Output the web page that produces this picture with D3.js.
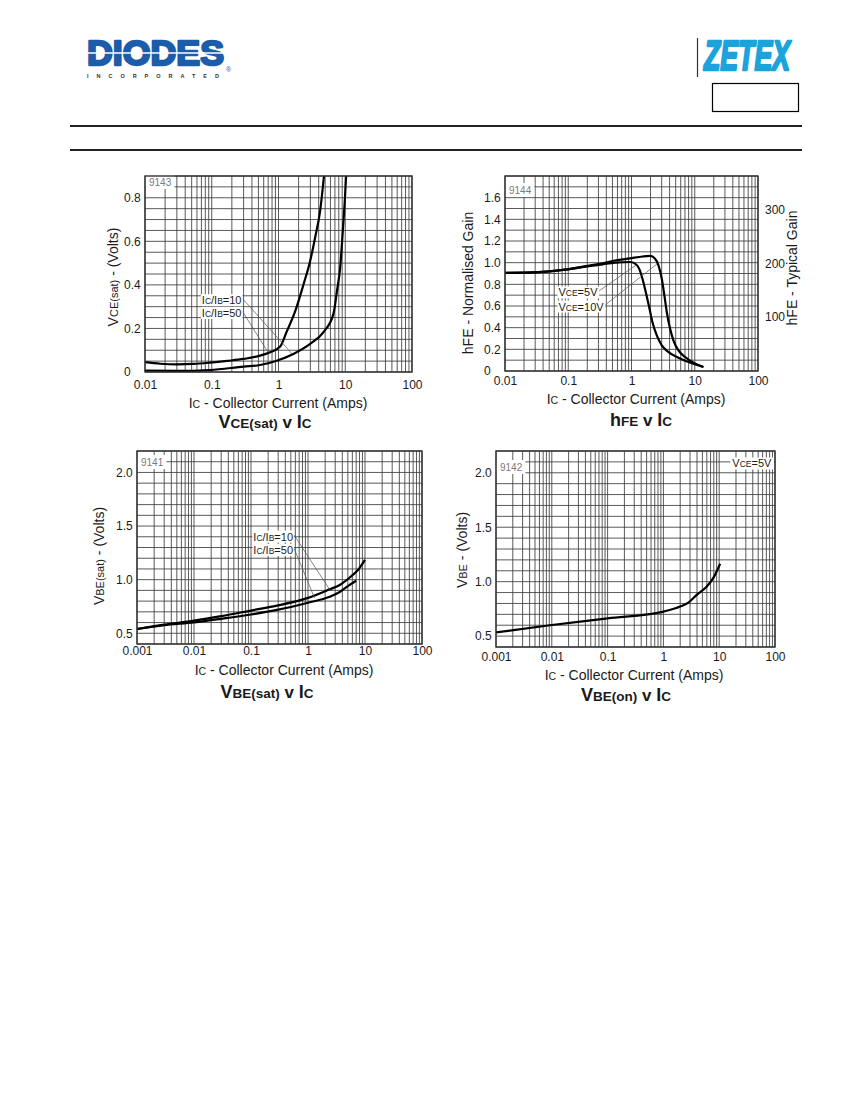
<!DOCTYPE html>
<html>
<head>
<meta charset="utf-8">
<script src="https://cdn.jsdelivr.net/npm/d3@7"></script>
<style>
  body { margin: 0; background: #fff; }
  svg { display: block; }
  text { font-family: "Liberation Sans", Arial, sans-serif; }
</style>
</head>
<body>
<svg></svg>
<script>
const svg = d3.select("svg").attr("width", 850).attr("height", 1100);

// tick values / labels
const xTicks2 = [0.01, 0.1, 1, 10, 100];
const xLabels2 = ["0.01", "0.1", "1", "10", "100"];
const xTicks3 = [0.001, 0.01, 0.1, 1, 10, 100];
const xLabels3 = ["0.001", "0.01", "0.1", "1", "10", "100"];
const vceTicks = [0, 0.2, 0.4, 0.6, 0.8];
const vceLabels = ["0", "0.2", "0.4", "0.6", "0.8"];
const hfeTicks = [0, 0.2, 0.4, 0.6, 0.8, 1.0, 1.2, 1.4, 1.6];
const hfeLabels = ["0", "0.2", "0.4", "0.6", "0.8", "1.0", "1.2", "1.4", "1.6"];
const gainTicks = [100, 200, 300];
const vbeTicks = [0.5, 1.0, 1.5, 2.0];
const vbeLabels = ["0.5", "1.0", "1.5", "2.0"];

// VCE(sat) v IC
const vceIc50 = [0.01, 0.017, 0.03, 0.053, 0.094, 0.17, 0.3, 0.53, 0.75, 1.06, 1.33, 1.78, 2.37, 2.98, 3.54, 4.21, 4.8];
const vce50 = [0.045, 0.038, 0.035, 0.037, 0.043, 0.051, 0.060, 0.075, 0.091, 0.117, 0.186, 0.279, 0.402, 0.51, 0.618, 0.741, 0.9];
const vceIc10 = [0.01, 0.03, 0.094, 0.3, 0.53, 0.94, 1.67, 2.98, 4.72, 6.67, 7.5, 8.4, 9.2, 9.9, 10.3];
const vce10 = [0.006, 0.005, 0.009, 0.025, 0.032, 0.052, 0.083, 0.129, 0.183, 0.268, 0.37, 0.48, 0.65, 0.8, 0.9];

// hFE v IC
const hfeIc10 = [0.01, 0.034, 0.089, 0.2, 0.35, 0.55, 0.95, 1.5, 1.97, 2.36, 2.67, 3.01, 3.31, 3.61, 4.08, 4.6, 5.52, 7.05, 9.55, 13.7];
const hfe10 = [0.905, 0.912, 0.935, 0.97, 0.995, 1.02, 1.04, 1.057, 1.062, 1.037, 0.975, 0.852, 0.698, 0.545, 0.39, 0.283, 0.19, 0.129, 0.077, 0.037];
const hfeIc5 = [0.01, 0.034, 0.089, 0.2, 0.35, 0.55, 0.95, 1.14, 1.32, 1.49, 1.68, 1.9, 2.14, 2.51, 3.01, 3.85, 5.52, 7.95, 13.7];
const hfe5 = [0.905, 0.912, 0.935, 0.965, 0.985, 1.0, 1.006, 0.991, 0.945, 0.852, 0.729, 0.591, 0.452, 0.329, 0.237, 0.175, 0.123, 0.083, 0.037];

// VBE(sat) v IC
const vbsIc10 = [0.001, 0.003, 0.01, 0.03, 0.1, 0.3, 1, 2.4, 3.6, 5.4, 7.5, 10];
const vbs10 = [0.54, 0.58, 0.618, 0.66, 0.712, 0.76, 0.83, 0.91, 0.95, 1.02, 1.09, 1.185];
const vbsIc50 = [0.001, 0.003, 0.01, 0.03, 0.1, 0.3, 1, 2.4, 3.6, 5.0, 7.0];
const vbs50 = [0.54, 0.575, 0.602, 0.635, 0.675, 0.72, 0.785, 0.84, 0.885, 0.94, 0.99];

// VBE(on) v IC
const vbeOnIc = [0.001, 0.01, 0.1, 1.0, 2.0, 2.8, 3.95, 6.0, 7.8, 10.4];
const vbeOn = [0.534, 0.602, 0.663, 0.725, 0.771, 0.808, 0.878, 0.955, 1.032, 1.165];

// ---------- page header ----------
const head = svg.append("g");
head.append("text").attr("x", 87).attr("y", 64.5)
    .attr("font-size", 35).attr("font-weight", "bold").attr("fill", "#1d5ca9")
    .attr("stroke", "#1d5ca9").attr("stroke-width", 2.4).attr("stroke-linejoin", "round")
    .attr("textLength", 137).attr("lengthAdjust", "spacingAndGlyphs").text("DIODES");
head.append("line").attr("x1", 84).attr("x2", 228).attr("y1", 53).attr("y2", 53)
    .attr("stroke", "#fff").attr("stroke-width", 1.6);
head.append("text").attr("x", 87).attr("y", 78)
    .attr("font-size", 5.5).attr("font-weight", "bold").attr("fill", "#333")
    .attr("textLength", 132).attr("lengthAdjust", "spacing").text("INCORPORATED");
head.append("text").attr("x", 226).attr("y", 72).attr("font-size", 7).attr("fill", "#1d5ca9").text("®");

head.append("line").attr("x1", 697.5).attr("x2", 697.5).attr("y1", 38).attr("y2", 77)
    .attr("stroke", "#333").attr("stroke-width", 1.2);
head.append("text").attr("x", 704).attr("y", 69.5)
    .attr("font-size", 43).attr("font-weight", "bold").attr("font-style", "italic").attr("fill", "#1ba3dc")
    .attr("stroke", "#1ba3dc").attr("stroke-width", 2.6).attr("stroke-linejoin", "round")
    .attr("textLength", 86).attr("lengthAdjust", "spacingAndGlyphs").text("ZETEX");
head.append("rect").attr("x", 712.5).attr("y", 83.5).attr("width", 86).attr("height", 28)
    .attr("fill", "none").attr("stroke", "#000").attr("stroke-width", 1.2);
[126, 150].forEach(yy => head.append("line").attr("x1", 70).attr("x2", 802).attr("y1", yy).attr("y2", yy)
    .attr("stroke", "#222").attr("stroke-width", 2));

// ---------- helpers ----------
function parts(sel, list) {
  list.forEach(([t, size, weight]) => {
    const s = sel.append("tspan").attr("font-size", size).text(t);
    if (weight) s.attr("font-weight", weight);
  });
  return sel;
}

function frame(b, xDomain, yDomain, tag, tagDy) {
  const x = d3.scaleLog().domain(xDomain).range([b.l, b.r]);
  const y = d3.scaleLinear().domain(yDomain).range([b.b, b.t]);
  const g = svg.append("g");

  g.append("g").selectAll("line").data(x.ticks()).join("line")
      .attr("x1", d => x(d)).attr("x2", d => x(d)).attr("y1", b.t).attr("y2", b.b)
      .attr("stroke", "#3c3c3c").attr("stroke-width", 0.85);
  g.append("g").selectAll("line").data(d3.ticks(yDomain[0], yDomain[1], 18)).join("line")
      .attr("x1", b.l).attr("x2", b.r).attr("y1", d => y(d)).attr("y2", d => y(d))
      .attr("stroke", "#3c3c3c").attr("stroke-width", 0.85);

  const bg = g.append("rect").attr("fill", "#fff");
  const t = g.append("text").attr("x", b.l + 4).attr("y", b.t + tagDy)
      .attr("font-size", 10).attr("fill", "#7a7a7a").text(tag);
  const bb = t.node().getBBox();
  bg.attr("x", b.l + 0.7).attr("y", bb.y - 2).attr("width", bb.width + 6).attr("height", bb.height + 3);

  return {x, y, g, b};
}

function border(f) {
  const b = f.b;
  f.g.append("rect").attr("x", b.l).attr("y", b.t).attr("width", b.r - b.l).attr("height", b.b - b.t)
      .attr("fill", "none").attr("stroke", "#333").attr("stroke-width", 1.4);
}

function styleAxis(a) {
  a.select(".domain").remove();
  a.attr("font-family", null).attr("font-size", null);
  a.selectAll("text").attr("font-size", 12).attr("fill", "#1a1a1a");
}

function axes(f, xt, xl, yt, yl, xPad) {
  f.g.append("g").attr("transform", `translate(0,${f.b.b})`)
      .call(d3.axisBottom(f.x).tickValues(xt).tickFormat((d, i) => xl[i]).tickSize(0).tickPadding(xPad))
      .call(styleAxis);
  const ya = f.g.append("g").attr("transform", `translate(${f.b.l},0)`)
      .call(d3.axisLeft(f.y).tickValues(yt).tickFormat((d, i) => yl[i]).tickSize(0).tickPadding(5))
      .call(styleAxis);
  // labels in the datasheet are left-aligned in one column
  const lw = d3.max(ya.selectAll("text").nodes(), n => n.getBBox().width);
  ya.selectAll("text").attr("text-anchor", "start").attr("x", -(lw + 4));
}

function curve(f, xs, ys) {
  const line = d3.line().x(d => f.x(d[0])).y(d => f.y(d[1])).curve(d3.curveMonotoneX);
  f.g.append("path").datum(d3.zip(xs, ys)).attr("d", line)
      .attr("fill", "none").attr("stroke", "#000").attr("stroke-width", 2.2)
      .attr("stroke-linejoin", "round");
}

function note(f, at, target, list) {
  const t = parts(f.g.append("text").attr("x", f.x(at[0])).attr("y", f.y(at[1])).attr("dy", "0.35em")
      .attr("fill", "#1a1a1a"), list);
  const bb = t.node().getBBox();
  f.g.insert("line", () => t.node())
      .attr("x1", bb.x + bb.width + 1).attr("y1", f.y(at[1]))
      .attr("x2", f.x(target[0])).attr("y2", f.y(target[1]))
      .attr("stroke", "#555").attr("stroke-width", 0.7);
  f.g.insert("rect", () => t.node()).attr("x", bb.x - 1).attr("y", bb.y)
      .attr("width", bb.width + 2).attr("height", bb.height).attr("fill", "#fff");
}

function title(x, y, rotate, list, extra) {
  const t = svg.append("text").attr("text-anchor", "middle").attr("fill", "#1a1a1a")
      .attr("transform", `translate(${x},${y})${rotate ? " rotate(-90)" : ""}`);
  if (extra) t.attr("font-weight", extra);
  return parts(t, list);
}

const icTitle = [["I", 14], ["C", 10.5], [" - Collector Current (Amps)", 14]];

// ---------- VCE(sat) v IC ----------
const c1 = frame({l: 145, r: 412, t: 176, b: 372}, [0.01, 100], [0, 0.9], "9143", 10);
curve(c1, vceIc50, vce50);
curve(c1, vceIc10, vce10);
note(c1, [0.071, 0.337], [1.6, 0.083], [["I", 11], ["C", 8.5], ["/I", 11], ["B", 8.5], ["=10", 11]]);
note(c1, [0.071, 0.278], [0.7, 0.09], [["I", 11], ["C", 8.5], ["/I", 11], ["B", 8.5], ["=50", 11]]);
axes(c1, xTicks2, xLabels2, vceTicks, vceLabels, 8);
border(c1);
title(118, 277, true, [["V", 14], ["CE(sat)", 11], [" - (Volts)", 14]]);
title(278, 407.5, false, icTitle);
title(265, 428, false, [["V", 18], ["CE(sat)", 13.5], [" v ", 17], ["I", 18], ["C", 13.5]], "bold");

// ---------- hFE v IC ----------
const c2 = frame({l: 505, r: 758, t: 176, b: 371}, [0.01, 100], [0, 1.8], "9144", 18);
curve(c2, hfeIc10, hfe10);
curve(c2, hfeIc5, hfe5);
note(c2, [0.07, 0.74], [1.2, 0.98], [["V", 11], ["CE", 8.5], ["=5V", 11]]);
note(c2, [0.07, 0.61], [2.55, 0.99], [["V", 11], ["CE", 8.5], ["=10V", 11]]);
axes(c2, xTicks2, xLabels2, hfeTicks, hfeLabels, 5);
const gain = d3.scaleLinear().domain([0, 362]).range([c2.b.b, c2.b.t]);
c2.g.append("g").attr("transform", `translate(${c2.b.r},0)`)
    .call(d3.axisRight(gain).tickValues(gainTicks).tickSize(0).tickPadding(7))
    .call(styleAxis);
border(c2);
title(473, 283, true, [["hFE - Normalised Gain", 14]]);
title(797, 268, true, [["hFE - Typical Gain", 14]]);
title(636, 403.5, false, icTitle);
title(641, 426, false, [["h", 18], ["FE", 13.5], [" v ", 17], ["I", 18], ["C", 13.5]], "bold");

// ---------- VBE(sat) v IC ----------
const c3 = frame({l: 137, r: 422, t: 451, b: 644}, [0.001, 100], [0.4, 2.2], "9141", 15);
curve(c3, vbsIc10, vbs10);
curve(c3, vbsIc50, vbs50);
note(c3, [0.11, 1.417], [2.45, 0.9], [["I", 11], ["C", 8.5], ["/I", 11], ["B", 8.5], ["=10", 11]]);
note(c3, [0.11, 1.292], [1.3, 0.83], [["I", 11], ["C", 8.5], ["/I", 11], ["B", 8.5], ["=50", 11]]);
axes(c3, xTicks3, xLabels3, vbeTicks, vbeLabels, 2);
border(c3);
title(104, 556, true, [["V", 14], ["BE(sat)", 11], [" - (Volts)", 14]]);
title(284, 675, false, icTitle);
title(267, 698, false, [["V", 18], ["BE(sat)", 13.5], [" v ", 17], ["I", 18], ["C", 13.5]], "bold");

// ---------- VBE(on) v IC ----------
const c4 = frame({l: 496, r: 775, t: 451, b: 647}, [0.001, 100], [0.4, 2.2], "9142", 20);
curve(c4, vbeOnIc, vbeOn);
{
  const t = parts(c4.g.append("text").attr("x", c4.x(86)).attr("y", c4.y(2.1)).attr("dy", "0.35em")
      .attr("text-anchor", "end").attr("fill", "#1a1a1a"), [["V", 11], ["CE", 8.5], ["=5V", 11]]);
  const bb = t.node().getBBox();
  c4.g.insert("rect", () => t.node()).attr("x", bb.x - 2).attr("y", bb.y)
      .attr("width", bb.width + 4).attr("height", bb.height).attr("fill", "#fff");
}
axes(c4, xTicks3, xLabels3, vbeTicks, vbeLabels, 5);
border(c4);
title(467, 550, true, [["V", 14], ["BE", 11], [" - (Volts)", 14]]);
title(634, 680, false, icTitle);
title(626, 701, false, [["V", 18], ["BE(on)", 13.5], [" v ", 17], ["I", 18], ["C", 13.5]], "bold");
</script>
</body>
</html>
